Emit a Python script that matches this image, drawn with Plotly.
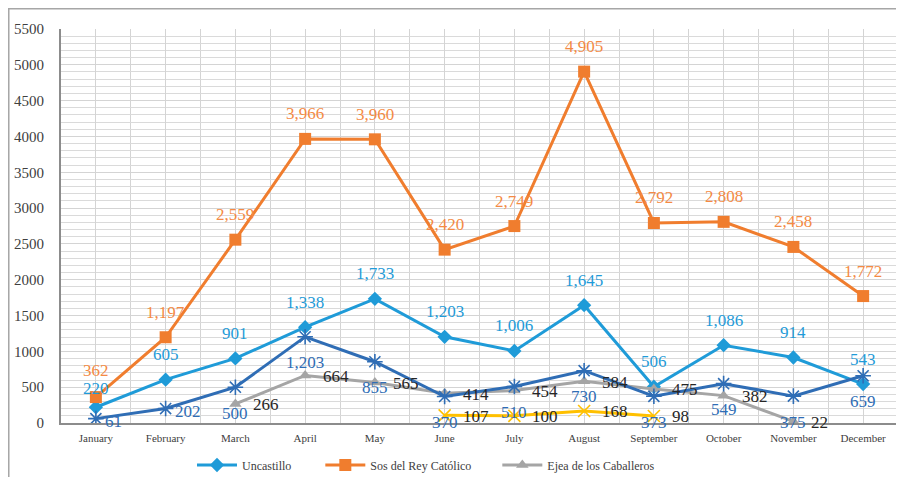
import plotly.graph_objects as go

months = ["January", "February", "March", "April", "May", "June", "July",
          "August", "September", "October", "November", "December"]

uncastillo = [220, 605, 901, 1338, 1733, 1203, 1006, 1645, 506, 1086, 914, 543]
sos_rey = [362, 1197, 2559, 3966, 3960, 2420, 2749, 4905, 2792, 2808, 2458, 1772]
ejea = [None, None, 266, 664, 565, 414, 454, 584, 475, 382, 22, None]
dark_series = [61, 202, 500, 1203, 855, 370, 510, 730, 373, 549, 375, 659]
yellow_series = [None, None, None, None, None, 107, 100, 168, 98, None, None, None]

x = list(range(len(months)))
FONT = "Liberation Serif"
NB = "\u00a0"

series = [
    dict(name="Uncastillo", pad=8, y=uncastillo, color="#1F9BD8", lab="#1F9BD8",
         symbol="diamond", size=11, lw=0, legend=True, pos=["t2"] + ["t"] * 11),
    dict(name="Sos del Rey Católico", pad=7, y=sos_rey, color="#F07D2E", lab="#F48A44",
         symbol="square", size=12, lw=0, legend=True, pos=["t3"] + ["t"] * 11),
    dict(name="Ejea de los Caballeros", pad=0, y=ejea, color="#A5A5A5", lab="#262626",
         symbol="triangle-up", size=11, lw=0, legend=True, pos="r"),
    dict(name="Serie 4", pad=0, y=dark_series, color="#2F6DB5", lab="#2F6DB5",
         symbol="asterisk-open", size=13, lw=1.6, legend=False,
         pos=["r2", "r2"] + ["b"] * 10),
    dict(name="Serie 5", pad=0, y=yellow_series, color="#FFC000", lab="#262626",
         symbol="x-thin-open", size=12, lw=1.6, legend=False, pos="r"),
]

fig = go.Figure()
annotations = []
for s in series:
    marker = dict(symbol=s["symbol"], size=s["size"], color=s["color"])
    if s["lw"]:
        marker["line"] = dict(color=s["color"], width=s["lw"])
    fig.add_trace(go.Scatter(
        x=x, y=s["y"], name=s["name"] + NB * s["pad"], mode="lines+markers",
        line=dict(color=s["color"], width=3), marker=marker,
        showlegend=s["legend"], connectgaps=False))
    for i, v in enumerate(s["y"]):
        if v is None:
            continue
        p = s["pos"][i] if isinstance(s["pos"], list) else s["pos"]
        a = dict(x=i, y=v, xref="x", yref="y", text=f"{v:,}", showarrow=False,
                 font=dict(family=FONT, size=17, color=s["lab"]))
        if p == "t":
            a.update(xanchor="center", yanchor="middle", yshift=25)
        elif p == "t2":
            a.update(xanchor="center", yanchor="middle", yshift=19)
        elif p == "t3":
            a.update(xanchor="center", yanchor="middle", yshift=27)
        elif p == "b":
            a.update(xanchor="center", yanchor="middle", yshift=-26)
        elif p == "r":
            a.update(xanchor="left", yanchor="middle", xshift=16, yshift=-1)
        elif p == "r2":
            a.update(xanchor="left", yanchor="middle", xshift=7, yshift=-3)
        annotations.append(a)

# outer frame (top and left edges visible)
shapes = [dict(type="rect", xref="paper", yref="paper",
               x0=-0.0624, y0=1.0514, x1=1.3, y1=-0.6,
               line=dict(color="#A6A6A6", width=1.5), layer="below")]

fig.update_layout(
    width=896, height=469,
    margin=dict(l=53, r=6, t=21, b=54, autoexpand=False),
    paper_bgcolor="white", plot_bgcolor="white",
    font=dict(family=FONT, color="#404040"),
    annotations=annotations, shapes=shapes,
    legend=dict(orientation="h", x=0.1565, xanchor="left", y=-0.1066,
                yanchor="middle", itemwidth=40,
                font=dict(family=FONT, size=12, color="#404040"),
                traceorder="normal"),
)
fig.update_xaxes(
    range=[-0.5, 11.5], tickvals=x, ticktext=months, automargin=False,
    tickfont=dict(family=FONT, size=11, color="#404040"),
    showgrid=True, gridcolor="#D4D4D4", gridwidth=1,
    minor=dict(tick0=-0.5, dtick=1, showgrid=True, gridcolor="#D4D4D4", gridwidth=1),
    showline=True, linecolor="#8C8C8C", linewidth=2, zeroline=False,
    ticks="", ticklabelstandoff=4,
)
fig.update_yaxes(
    range=[0, 5500], dtick=500, tick0=0, automargin=False,
    tickfont=dict(family=FONT, size=15, color="#404040"),
    showgrid=True, gridcolor="#D4D4D4", gridwidth=1,
    minor=dict(dtick=100, showgrid=True, gridcolor="#DADADA", gridwidth=1),
    showline=True, linecolor="#8C8C8C", linewidth=2, zeroline=False,
    ticks="", ticklabelstandoff=12,
)

fig.write_html("out.html")
